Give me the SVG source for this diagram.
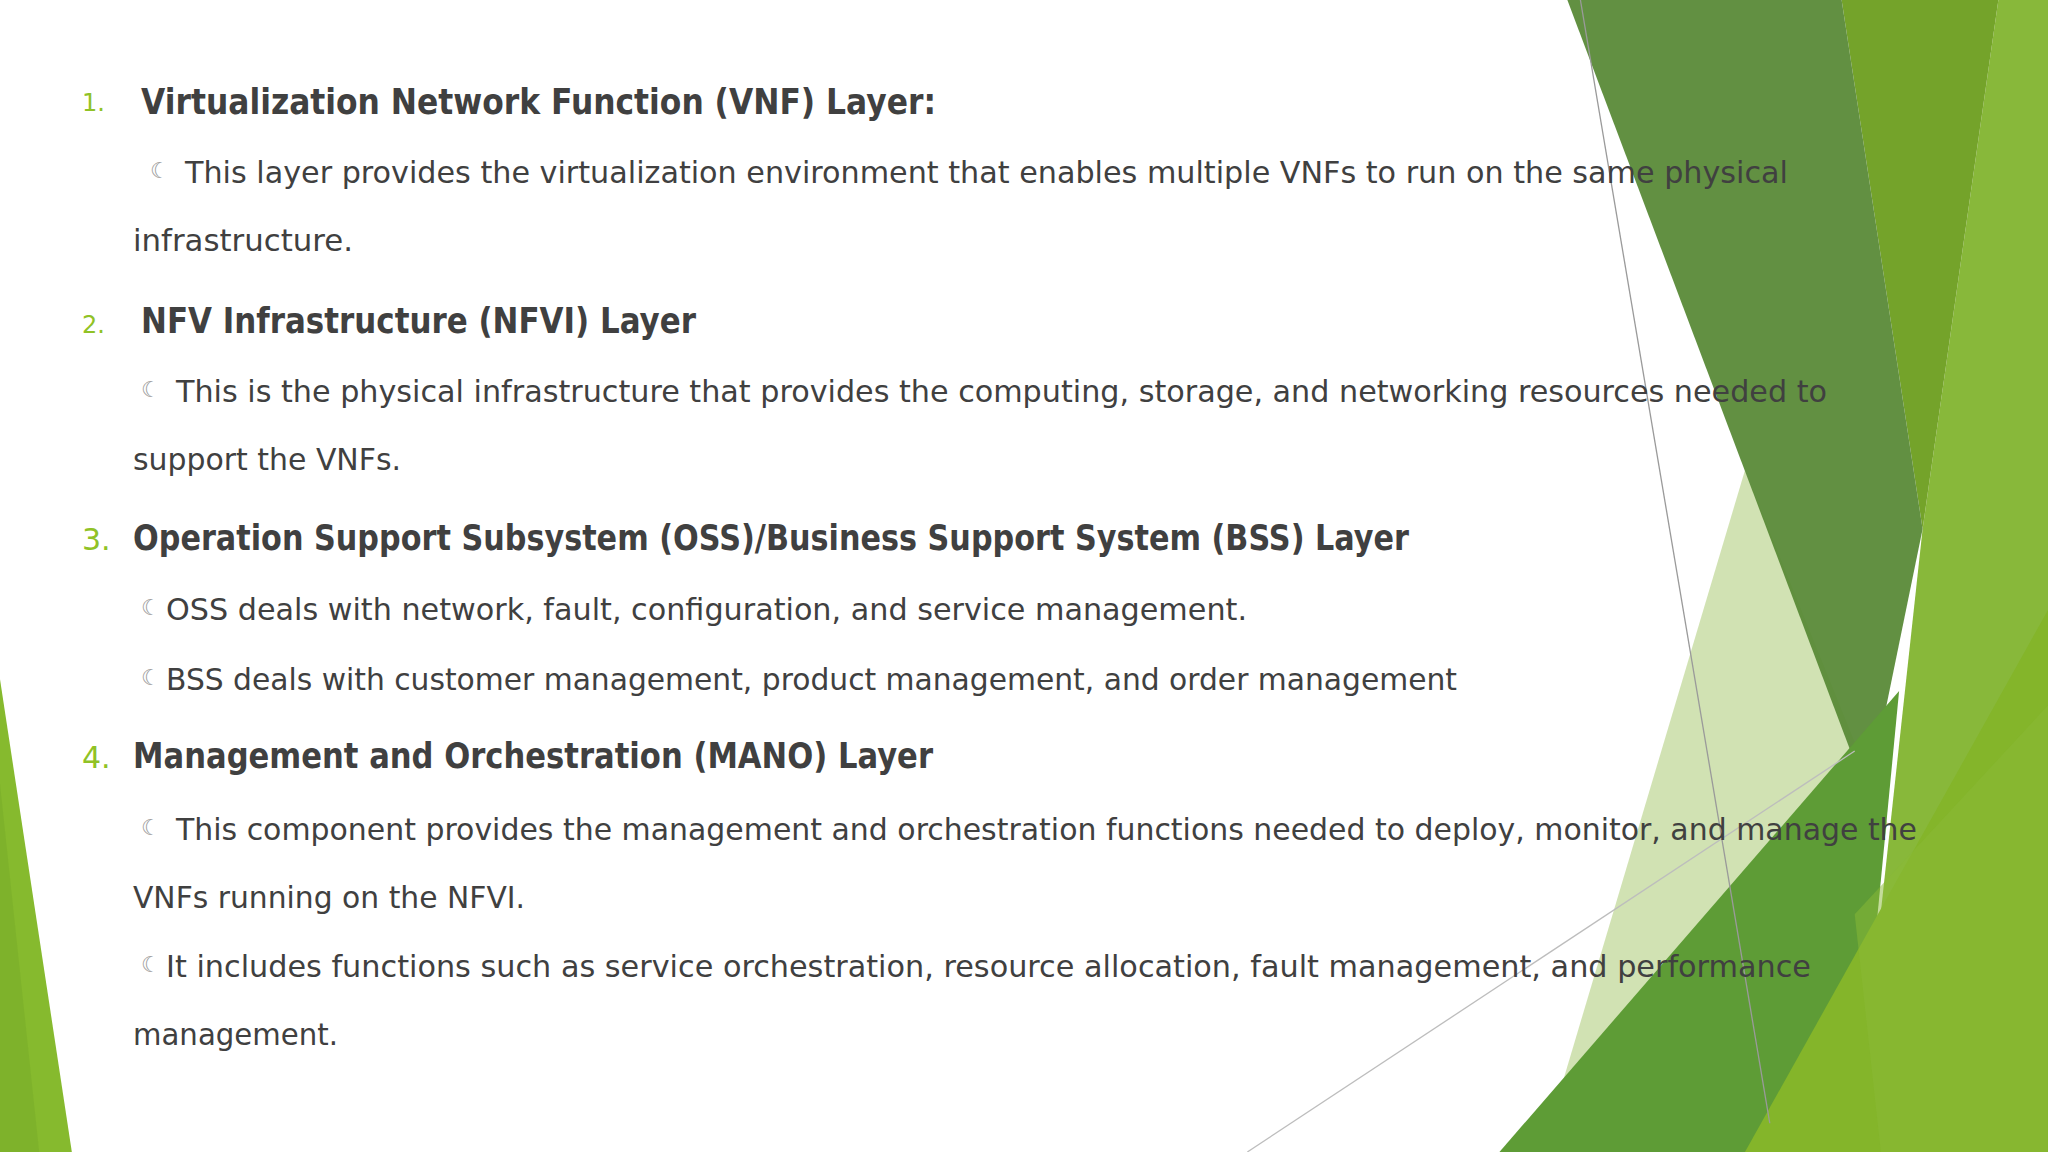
<svg xmlns="http://www.w3.org/2000/svg" width="2048" height="1152" viewBox="0 0 2048 1152">
<style>
.h{font-family:"DejaVu Sans",sans-serif;font-weight:bold;font-size:35px;fill:#404040}
.b{font-family:"DejaVu Sans",sans-serif;font-size:30px;fill:#404040}
.n{font-family:"DejaVu Sans",sans-serif;fill:#90C226}
.s{font-family:"DejaVu Sans",sans-serif;font-size:22px;fill:#a0a0a0}
</style>
<rect width="2048" height="1152" fill="#ffffff"/>
<g id="decor" transform="scale(1.30612)">
<polygon points="0,520 55,882 0,882" fill="#86BA2E"/>
<polygon points="0,600 30,882 0,882" fill="#7AAE2A" opacity="0.6"/>
<polygon points="1530,0 1568,0 1568,882 1420,882 1472,405" fill="#88B83A"/>
<polygon points="1410,0 1530,0 1472,405" fill="#74A32A"/>
<polygon points="1190,850 1336,360 1445,630 1400,882 1230,882" fill="#C9DDA6" opacity="0.85"/>
<polygon points="1200,0 1410,0 1472,405 1430,610" fill="#5A8A38" opacity="0.95"/>
<polygon points="1148,882 1454,529 1420,882" fill="#5E9C36"/>
<polygon points="1568,467 1568,882 1336,882" fill="#84B52A"/>
<polygon points="1420,700 1568,540 1568,882 1440,882" fill="#8AB936" opacity="0.5"/>
<line x1="1210" y1="0" x2="1355" y2="860" stroke="#9a9a9a" stroke-width="1"/>
<line x1="955" y1="882" x2="1420" y2="575" stroke="#bdbdbd" stroke-width="1"/>
</g>
<g id="item1">
<text class="n" x="82" y="111" font-size="24">1.</text>
<text class="h" x="141" y="114" textLength="795" lengthAdjust="spacingAndGlyphs">Virtualization Network Function (VNF) Layer:</text>
<text class="s" x="150" y="178">☾</text>
<text class="b" x="185" y="183" textLength="1603" lengthAdjust="spacingAndGlyphs">This layer provides the virtualization environment that enables multiple VNFs to run on the same physical</text>
<text class="b" x="133" y="251" textLength="220" lengthAdjust="spacingAndGlyphs">infrastructure.</text>
</g>
<g id="item2">
<text class="n" x="82" y="333" font-size="24">2.</text>
<text class="h" x="141" y="333" textLength="555" lengthAdjust="spacingAndGlyphs">NFV Infrastructure (NFVI) Layer</text>
<text class="s" x="141" y="397">☾</text>
<text class="b" x="176" y="402" textLength="1651" lengthAdjust="spacingAndGlyphs">This is the physical infrastructure that provides the computing, storage, and networking resources needed to</text>
<text class="b" x="133" y="470" textLength="268" lengthAdjust="spacingAndGlyphs">support the VNFs.</text>
</g>
<g id="item3">
<text class="n" x="82" y="550" font-size="30">3.</text>
<text class="h" x="133" y="550" textLength="1276" lengthAdjust="spacingAndGlyphs">Operation Support Subsystem (OSS)/Business Support System (BSS) Layer</text>
<text class="s" x="141" y="615">☾</text>
<text class="b" x="166" y="620" textLength="1081" lengthAdjust="spacingAndGlyphs">OSS deals with network, fault, configuration, and service management.</text>
<text class="s" x="141" y="685">☾</text>
<text class="b" x="166" y="690" textLength="1291" lengthAdjust="spacingAndGlyphs">BSS deals with customer management, product management, and order management</text>
</g>
<g id="item4">
<text class="n" x="82" y="768" font-size="30">4.</text>
<text class="h" x="133" y="768" textLength="800" lengthAdjust="spacingAndGlyphs">Management and Orchestration (MANO) Layer</text>
<text class="s" x="141" y="835">☾</text>
<text class="b" x="176" y="840" textLength="1741" lengthAdjust="spacingAndGlyphs">This component provides the management and orchestration functions needed to deploy, monitor, and manage the</text>
<text class="b" x="133" y="908" textLength="392" lengthAdjust="spacingAndGlyphs">VNFs running on the NFVI.</text>
<text class="s" x="141" y="972">☾</text>
<text class="b" x="166" y="977" textLength="1645" lengthAdjust="spacingAndGlyphs">It includes functions such as service orchestration, resource allocation, fault management, and performance</text>
<text class="b" x="133" y="1045" textLength="205" lengthAdjust="spacingAndGlyphs">management.</text>
</g>
</svg>
